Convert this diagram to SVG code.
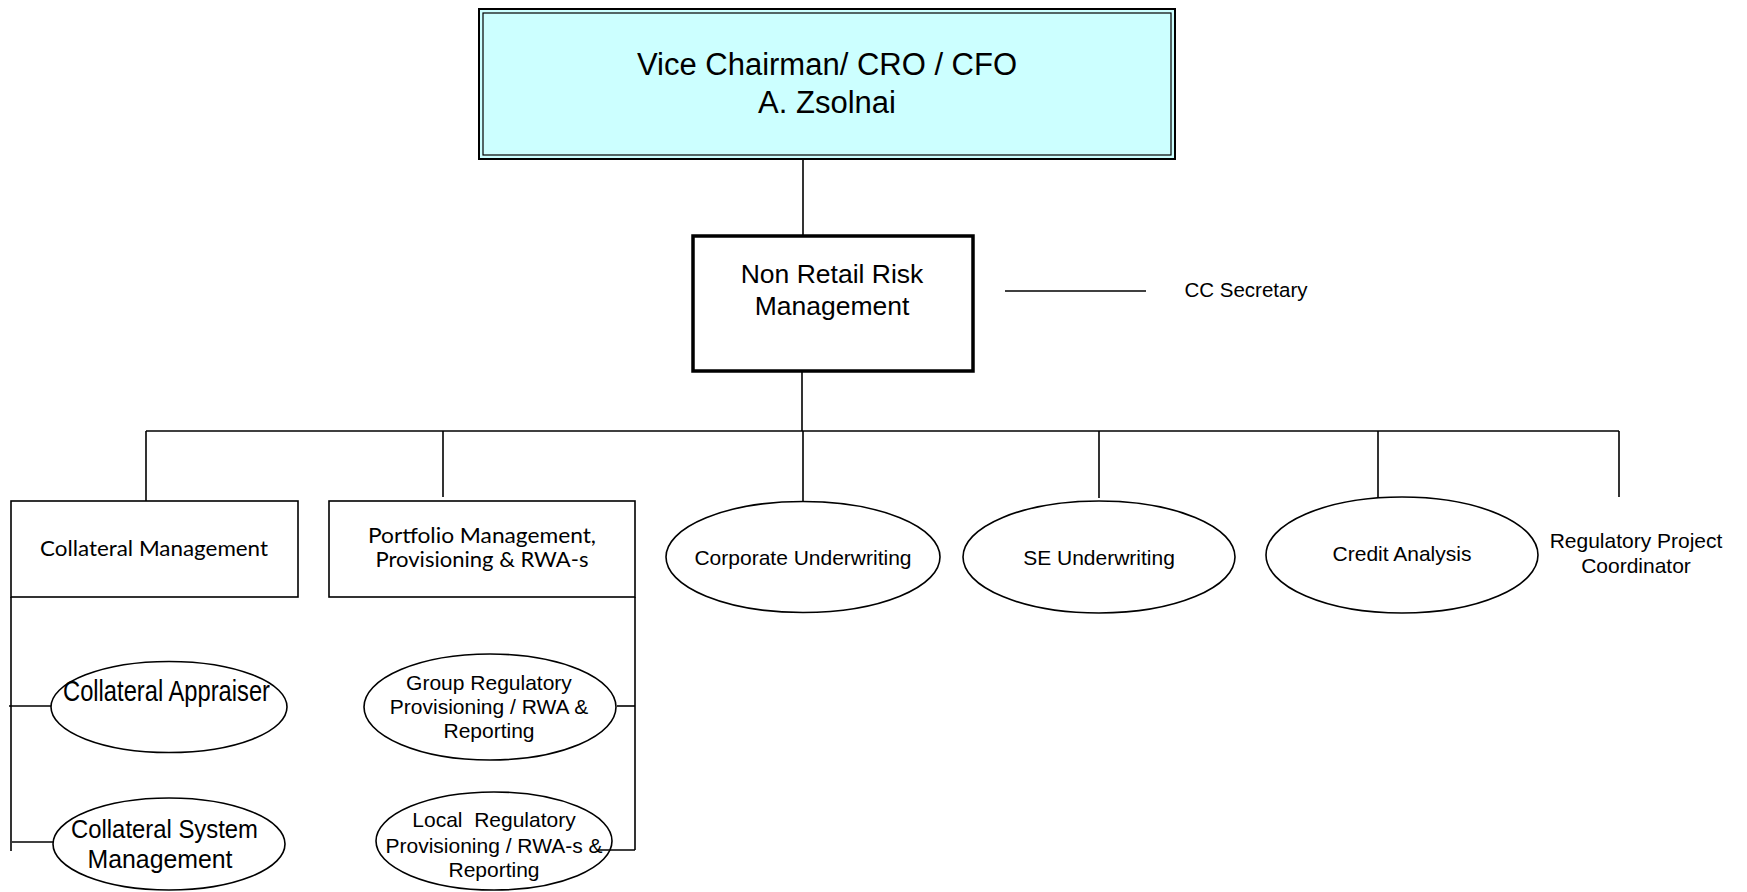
<svg xmlns="http://www.w3.org/2000/svg" width="1747" height="892" viewBox="0 0 1747 892">
<style>
.bg{fill:#fff}
.box{fill:#fff;stroke:#000;stroke-width:1.6}
.ell{fill:#fff;stroke:#000;stroke-width:1.6}
.ln{fill:none;stroke:#000;stroke-width:1.6}
.t{font-family:"Liberation Sans",Arial,sans-serif;fill:#000;text-anchor:middle}
.c{font-family:Lato,"Liberation Sans",sans-serif;fill:#000;text-anchor:middle;font-size:22px}
.f21{font-size:21px}
</style>
<rect class="bg" x="0" y="0" width="1747" height="892"/>
<g id="vice-chairman">
<rect x="479" y="9" width="696" height="150" fill="#ccffff" stroke="#000" stroke-width="2"/>
<rect x="483" y="13" width="688" height="142" fill="none" stroke="#000" stroke-width="1.2"/>
<text class="t" x="827" y="75" font-size="31">Vice Chairman/ CRO / CFO</text>
<text class="t" x="827" y="113" font-size="31">A. Zsolnai</text>
</g>
<g id="non-retail">
<rect x="693" y="236" width="280" height="135" fill="#fff" stroke="#000" stroke-width="3.5"/>
<text class="t" x="832" y="283" font-size="26.5">Non Retail Risk</text>
<text class="t" x="832" y="315" font-size="26.5">Management</text>
</g>
<g id="cc-secretary">
<text class="t" x="1246" y="297" font-size="20.5">CC Secretary</text>
</g>
<g id="collateral-management">
<rect class="box" x="11" y="501" width="287" height="96"/>
<text class="c" x="154" y="556" textLength="228" lengthAdjust="spacingAndGlyphs">Collateral Management</text>
</g>
<g id="portfolio-management">
<rect class="box" x="329" y="501" width="306" height="96"/>
<text class="c" x="482" y="543" textLength="228" lengthAdjust="spacingAndGlyphs">Portfolio Management,</text>
<text class="c" x="482" y="567" textLength="213" lengthAdjust="spacingAndGlyphs">Provisioning &amp; RWA-s</text>
</g>
<g id="corporate-underwriting">
<ellipse class="ell" cx="803" cy="557" rx="137" ry="55.5"/>
<text class="t f21" x="803" y="565">Corporate Underwriting</text>
</g>
<g id="se-underwriting">
<ellipse class="ell" cx="1099" cy="557" rx="136" ry="56"/>
<text class="t f21" x="1099" y="565">SE Underwriting</text>
</g>
<g id="credit-analysis">
<ellipse class="ell" cx="1402" cy="555" rx="136" ry="58"/>
<text class="t f21" x="1402" y="561">Credit Analysis</text>
</g>
<g id="regulatory-project-coordinator">
<text class="t f21" x="1636" y="548">Regulatory Project</text>
<text class="t f21" x="1636" y="573">Coordinator</text>
</g>
<g id="collateral-appraiser">
<ellipse class="ell" cx="169" cy="707" rx="118" ry="45.5"/>
<text class="t" x="166.5" y="701" font-size="29" textLength="207" lengthAdjust="spacingAndGlyphs">Collateral Appraiser</text>
</g>
<g id="collateral-system-management">
<ellipse class="ell" cx="169" cy="844" rx="116" ry="46"/>
<text class="t" x="164.5" y="838" font-size="25.5" textLength="187" lengthAdjust="spacingAndGlyphs">Collateral System</text>
<text class="t" x="160" y="868" font-size="25.5" textLength="145" lengthAdjust="spacingAndGlyphs">Management</text>
</g>
<g id="group-regulatory">
<ellipse class="ell" cx="490" cy="707" rx="126" ry="53"/>
<text class="t f21" x="489" y="690">Group Regulatory</text>
<text class="t f21" x="489" y="714">Provisioning / RWA &amp;</text>
<text class="t f21" x="489" y="738">Reporting</text>
</g>
<g id="local-regulatory">
<ellipse class="ell" cx="494" cy="841" rx="118" ry="49"/>
<text class="t f21" x="494" y="827" xml:space="preserve">Local  Regulatory</text>
<text class="t f21" x="494" y="853">Provisioning / RWA-s &amp;</text>
<text class="t f21" x="494" y="877">Reporting</text>
</g>
<g id="connectors" class="ln">
<path d="M803,159 V236"/>
<path d="M802,371 V431"/>
<path d="M146,431 H1619"/>
<path d="M146,431 V501"/>
<path d="M443,431 V497"/>
<path d="M803,431 V501.5"/>
<path d="M1099,431 V498"/>
<path d="M1378,431 V497"/>
<path d="M1619,431 V497"/>
<path d="M1005,291 H1146"/>
<path d="M11,597 V851"/>
<path d="M9,706 H51"/>
<path d="M12,842 H53"/>
<path d="M635,597 V850"/>
<path d="M617,706 H635"/>
<path d="M598,850 H635"/>
</g>
</svg>
